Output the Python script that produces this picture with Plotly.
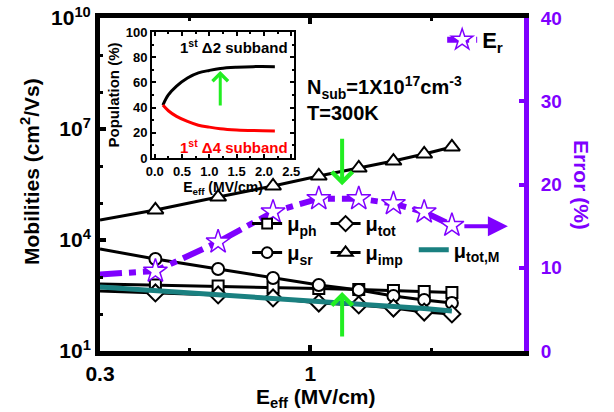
import numpy as np
import plotly.graph_objects as go

# ---- data ----
E_eff = [0.3, 0.412, 0.59, 0.808, 1.05, 1.32, 1.61, 1.92, 2.25]
mu_ph = [647, 608, 571, 520, 489, 459, 431, 405, 381]
mu_sr = [5715, 3065, 1643, 940, 608, 446, 306, 239, 198]
mu_tot = [419, 370, 327, 271, 198, 175, 145, 113, 100]
mu_imp = [34800, 64800, 145000, 288000, 537000, 883000, 1.36e6, 2.11e6, 3.27e6]
mu_totM = [537, 432, 337, 271, 224, 192, 164, 141, 121]
err = [9.2, 9.6, 13.1, 16.7, 18.3, 18.3, 17.7, 16.7, 15.1]

inset_E = [0.15, 0.25, 0.4, 0.6, 0.8, 1.0, 1.2, 1.5, 1.8, 2.2]
pop_d2 = [42, 50, 57, 63.5, 67.5, 69.5, 71, 72, 72.5, 72.5]
pop_d4 = [42, 37.5, 33, 29, 26, 24.5, 23.3, 22.3, 21.8, 21.5]

ytick_vals = [10, 1e4, 1e7, 1e10]
ytick_text = ["10<sup>1</sup>", "10<sup>4</sup>", "10<sup>7</sup>", "10<sup>10</sup>"]
xtick_vals = [0.3, 1]
xtick_text = ["0.3", "1"]
y2tick_vals = [0, 10, 20, 30, 40]

PURPLE = "#7f00ff"
TEAL = "#1a8080"
GREEN = "#22ee22"
FONT = "Liberation Sans"

first_hidden = lambda n, s: [0] + [s] * (n - 1)

fig = go.Figure()

def black_trace(y, sym, size, name, legend):
    fig.add_trace(go.Scatter(
        x=E_eff, y=y, mode="lines+markers", name=name, legend=legend, legendgroup=name,
        line=dict(color="black", width=3),
        marker=dict(symbol=sym, size=first_hidden(len(y), size), color="white", opacity=1,
                    line=dict(color="black", width=2)),
        xaxis="x", yaxis="y"))

black_trace(mu_ph, "square", 11, "μ<sub>ph</sub>", "legend2")
black_trace(mu_sr, "circle", 12, "μ<sub>sr</sub>", "legend2")
black_trace(mu_tot, "diamond", 13, "μ<sub>tot</sub>", "legend3")
black_trace(mu_imp, "triangle-up", 14, "μ<sub>imp</sub>", "legend3")

fig.add_trace(go.Scatter(
    x=E_eff, y=mu_totM, mode="lines", name="μ<sub>tot,M</sub>", legend="legend4",
    line=dict(color=TEAL, width=5), xaxis="x", yaxis="y"))

fig.add_trace(go.Scatter(
    x=E_eff, y=err, mode="lines+markers", name="E<sub>r</sub>", legend="legend",
    line=dict(color=PURPLE, width=6, dash="22px,7px,7px,7px"),
    marker=dict(symbol="star", size=first_hidden(len(err), 18), color="white", opacity=1,
                line=dict(color=PURPLE, width=1.5)),
    xaxis="x", yaxis="y2"))

# inset
fig.add_trace(go.Scatter(x=inset_E, y=pop_d2, mode="lines", line=dict(color="black", width=3, shape="spline"),
                         showlegend=False, xaxis="x2", yaxis="y3"))
fig.add_trace(go.Scatter(x=inset_E, y=pop_d4, mode="lines", line=dict(color="red", width=3, shape="spline"),
                         showlegend=False, xaxis="x2", yaxis="y3"))

bold = lambda s, c="black": dict(family=FONT, size=s, color=c, weight="bold")

fig.update_layout(
    width=614, height=412,
    margin=dict(l=100, r=90, t=18, b=61, autoexpand=False),
    paper_bgcolor="white", plot_bgcolor="white",
    xaxis=dict(type="log", range=[np.log10(0.3), np.log10(3.4)],
               tickvals=xtick_vals, ticktext=xtick_text, tickfont=bold(21),
               ticks="inside", ticklen=6, tickwidth=4, tickcolor="black",
               minor=dict(tickvals=[0.5, 2], ticks="inside", ticklen=3, tickwidth=3, tickcolor="black"),
               showline=True, linewidth=5, linecolor="black", mirror="ticks",
               showgrid=False, zeroline=False, automargin=False),
    yaxis=dict(type="log", range=[1, 10],
               tickvals=ytick_vals, ticktext=ytick_text, tickfont=bold(21),
               ticks="inside", ticklen=6, tickwidth=4, tickcolor="black",
               minor=dict(dtick=1, ticks="inside", ticklen=3, tickwidth=3, tickcolor="black"),
               showline=True, linewidth=5, linecolor="black",
               showgrid=False, zeroline=False, automargin=False),
    yaxis2=dict(overlaying="y", side="right", range=[0, 40],
                tickvals=y2tick_vals, tickfont=bold(19, PURPLE), ticklabelstandoff=8,
                ticks="inside", ticklen=5, tickwidth=4, tickcolor=PURPLE,
                showline=True, linewidth=5, linecolor=PURPLE,
                showgrid=False, zeroline=False, automargin=False),
    xaxis2=dict(domain=[0.1226, 0.4575], anchor="y3", range=[-0.05, 2.55],
                dtick=0.5, tickformat=".1f", tickfont=bold(13),
                ticks="inside", ticklen=4, tickwidth=1.5, tickcolor="black",
                minor=dict(dtick=0.25, ticks="inside", ticklen=2, tickcolor="black"),
                showline=True, linewidth=2, linecolor="black", mirror="ticks",
                showgrid=False, zeroline=False, automargin=False,
                title=dict(text="E<sub>eff</sub> (MV/cm)", font=bold(14), standoff=2)),
    yaxis3=dict(domain=[0.5796, 0.958], anchor="x2", range=[0, 100],
                dtick=20, tickfont=bold(13),
                ticks="inside", ticklen=4, tickwidth=1.5, tickcolor="black",
                minor=dict(dtick=10, ticks="inside", ticklen=2, tickcolor="black"),
                showline=True, linewidth=2, linecolor="black", mirror="ticks",
                showgrid=False, zeroline=False, automargin=False,
                title=dict(text="Population (%)", font=bold(15), standoff=2)),
    legend=dict(x=0.807, y=0.934, xanchor="left", yanchor="middle", font=bold(22),
                bgcolor="rgba(0,0,0,0)"),
    legend2=dict(x=0.347, y=0.339, xanchor="left", yanchor="middle", font=bold(20),
                 bgcolor="rgba(0,0,0,0)", traceorder="grouped", tracegroupgap=0),
    legend3=dict(x=0.532, y=0.339, xanchor="left", yanchor="middle", font=bold(20),
                 bgcolor="rgba(0,0,0,0)", traceorder="grouped", tracegroupgap=0),
    legend4=dict(x=0.74, y=0.304, xanchor="left", yanchor="middle", font=bold(20),
                 bgcolor="rgba(0,0,0,0)"),
)

ann = []
# green arrows
ann.append(dict(x=np.log10(1.2), y=19.9, xref="x", yref="y2", ax=0, ay=-48, showarrow=True,
                arrowhead=4, arrowsize=1, arrowwidth=4, arrowcolor=GREEN, text=""))
ann.append(dict(x=np.log10(1.2), y=7.1, xref="x", yref="y2", ax=0, ay=46, showarrow=True,
                arrowhead=4, arrowsize=1, arrowwidth=4, arrowcolor=GREEN, text=""))
ann.append(dict(x=1.2, y=69, xref="x2", yref="y3", ax=0, ay=36, showarrow=True,
                arrowhead=4, arrowsize=1, arrowwidth=3, arrowcolor=GREEN, text=""))
# purple arrow to right axis
ann.append(dict(x=np.log10(3.1), y=15.0, xref="x", yref="y2", ax=-45, ay=0, showarrow=True,
                arrowhead=2, arrowsize=1, arrowwidth=4, arrowcolor=PURPLE, text=""))
# texts
ann.append(dict(x=(305 - 100) / 424, y=(351 - 87) / 333, xref="paper", yref="paper",
                xanchor="left", yanchor="middle", showarrow=False,
                text="N<sub>sub</sub>=1X10<sup>17</sup>cm<sup>-3</sup>", font=bold(20)))
ann.append(dict(x=(305 - 100) / 424, y=(351 - 113) / 333, xref="paper", yref="paper",
                xanchor="left", yanchor="middle", showarrow=False,
                text="T=300K", font=bold(20)))
ann.append(dict(x=(582 - 100) / 424, y=(351 - 185) / 333, xref="paper", yref="paper",
                xanchor="center", yanchor="middle", showarrow=False, textangle=90,
                text="Error (%)", font=bold(21, PURPLE)))
ann.append(dict(x=(30 - 100) / 424, y=(351 - 172) / 333, xref="paper", yref="paper",
                xanchor="center", yanchor="middle", showarrow=False, textangle=-90,
                text="Mobilities (cm<sup>2</sup>/Vs)", font=bold(21)))
ann.append(dict(x=(315 - 100) / 424, y=(351 - 398) / 333, xref="paper", yref="paper",
                xanchor="center", yanchor="middle", showarrow=False,
                text="E<sub>eff</sub> (MV/cm)", font=bold(21)))
ann.append(dict(x=(178 - 100) / 424, y=(351 - 46) / 333, xref="paper", yref="paper",
                xanchor="left", yanchor="middle", showarrow=False,
                text="1<sup>st</sup> Δ2 subband", font=bold(15)))
ann.append(dict(x=(178 - 100) / 424, y=(351 - 146) / 333, xref="paper", yref="paper",
                xanchor="left", yanchor="middle", showarrow=False,
                text="1<sup>st</sup> Δ4 subband", font=bold(15, "red")))
fig.update_layout(annotations=ann)

fig.write_html("out.html")
